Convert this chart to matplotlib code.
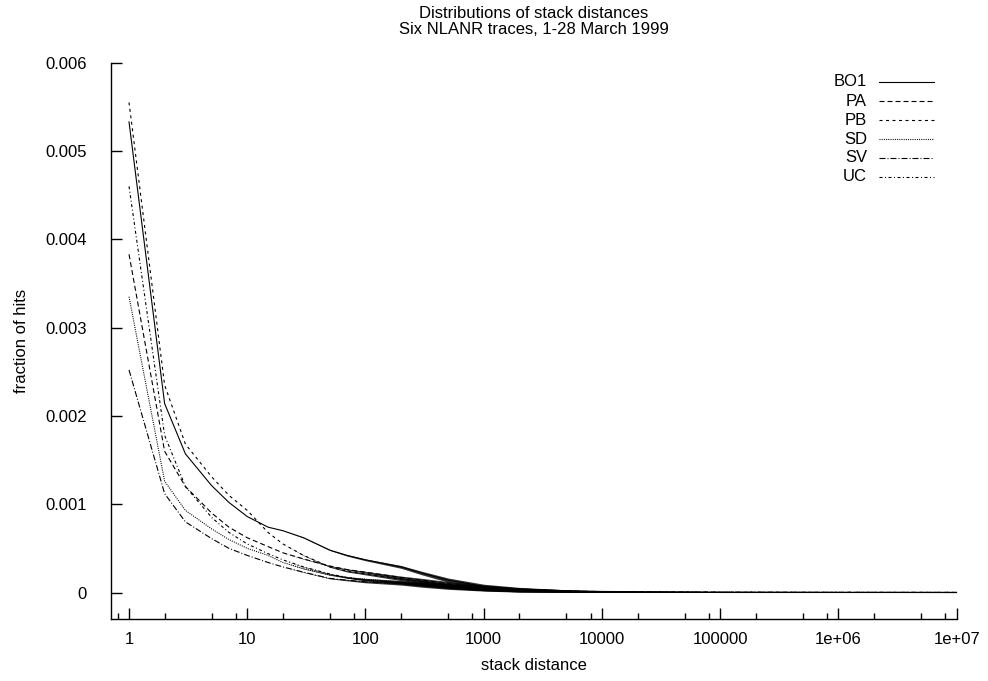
import matplotlib
matplotlib.use("Agg")
import matplotlib.pyplot as plt
import numpy as np

plt.rcParams['font.family'] = ['Liberation Sans', 'DejaVu Sans']
plt.rcParams['lines.scale_dashes'] = False

# ---- data (fraction of hits) ----
x_pts = [1, 2, 3, 5, 7, 10, 15, 20, 30, 50, 70, 100, 200, 300, 500, 1000, 2000, 5000, 10000, 100000, 1000000, 10000000]

BO1 = [5.33e-3, 2.14e-3, 1.57e-3, 1.21e-3, 1.02e-3, 0.86e-3, 0.74e-3, 0.70e-3, 0.62e-3, 0.48e-3, 0.42e-3, 0.37e-3, 0.29e-3, 0.22e-3, 0.14e-3, 0.07e-3, 0.04e-3, 0.02e-3, 0.012e-3, 0.003e-3, 0.001e-3, 0.0005e-3]
PA  = [3.83e-3, 1.60e-3, 1.20e-3, 0.90e-3, 0.74e-3, 0.62e-3, 0.52e-3, 0.45e-3, 0.38e-3, 0.30e-3, 0.26e-3, 0.23e-3, 0.17e-3, 0.14e-3, 0.10e-3, 0.06e-3, 0.035e-3, 0.018e-3, 0.010e-3, 0.002e-3, 0.001e-3, 0.0005e-3]
PB  = [5.55e-3, 2.35e-3, 1.68e-3, 1.31e-3, 1.10e-3, 0.93e-3, 0.68e-3, 0.55e-3, 0.42e-3, 0.29e-3, 0.24e-3, 0.21e-3, 0.15e-3, 0.12e-3, 0.08e-3, 0.05e-3, 0.03e-3, 0.015e-3, 0.008e-3, 0.002e-3, 0.001e-3, 0.0005e-3]
SD  = [3.35e-3, 1.26e-3, 0.93e-3, 0.72e-3, 0.60e-3, 0.50e-3, 0.42e-3, 0.34e-3, 0.27e-3, 0.20e-3, 0.17e-3, 0.15e-3, 0.12e-3, 0.10e-3, 0.07e-3, 0.045e-3, 0.025e-3, 0.013e-3, 0.007e-3, 0.002e-3, 0.001e-3, 0.0005e-3]
SV  = [2.52e-3, 1.12e-3, 0.80e-3, 0.61e-3, 0.50e-3, 0.42e-3, 0.34e-3, 0.29e-3, 0.23e-3, 0.16e-3, 0.14e-3, 0.12e-3, 0.10e-3, 0.08e-3, 0.06e-3, 0.04e-3, 0.022e-3, 0.012e-3, 0.006e-3, 0.002e-3, 0.001e-3, 0.0005e-3]
UC  = [4.60e-3, 1.78e-3, 1.20e-3, 0.85e-3, 0.68e-3, 0.55e-3, 0.44e-3, 0.37e-3, 0.29e-3, 0.21e-3, 0.17e-3, 0.14e-3, 0.11e-3, 0.09e-3, 0.07e-3, 0.045e-3, 0.025e-3, 0.013e-3, 0.007e-3, 0.002e-3, 0.001e-3, 0.0005e-3]

# half-width of the sample-to-sample scatter seen around each curve
SPREAD = [0, 0, 0, 0, 0, 0, 0, 0, 0.003e-3, 0.005e-3, 0.008e-3, 0.010e-3, 0.016e-3, 0.020e-3, 0.024e-3, 0.024e-3, 0.018e-3, 0.011e-3, 0.005e-3, 0.002e-3, 0.001e-3, 0.0005e-3]

series_names = ['BO1', 'PA', 'PB', 'SD', 'SV', 'UC']
series_vals = [BO1, PA, PB, SD, SV, UC]

x_ticks = [1, 10, 100, 1000, 10000, 100000, 1000000, 10000000]
x_ticklabels = ['1', '10', '100', '1000', '10000', '100000', '1e+06', '1e+07']
y_ticks = [0, 0.001, 0.002, 0.003, 0.004, 0.005, 0.006]
y_ticklabels = ['0', '0.001', '0.002', '0.003', '0.004', '0.005', '0.006']

# ---- styles (dash patterns in points, 1px = 0.72pt) ----
px = 0.72
styles = {
    'BO1': '-',
    'PA': (0, (5 * px, 3 * px)),
    'PB': (0, (3 * px, 3.5 * px)),
    'SD': (0, (1 * px, 1.2 * px)),
    'SV': (0, (6 * px, 2 * px, 1 * px, 2 * px)),
    'UC': (0, (3 * px, 2.5 * px, 1 * px, 2.5 * px)),
}

W, H = 988, 681
fig = plt.figure(figsize=(W / 100, H / 100), dpi=100)
L, R, T, B = 110.7, 956.7, 62.7, 619
ax = fig.add_axes([L / W, 1 - B / H, (R - L) / W, (B - T) / H])

sp = np.array(SPREAD)
for name, vals in zip(series_names, series_vals):
    v = np.array(vals)
    ax.fill_between(x_pts, v - sp, v + sp, color='black', lw=0, alpha=0.8)
    ax.plot(x_pts, vals, color='black', lw=0.8, linestyle=styles[name])

ax.set_xscale('log')
ax.set_xlim(0.7, 1e7)
ax.set_ylim(-0.0003, 0.006)

for s in ['top', 'right']:
    ax.spines[s].set_visible(False)
for s in ['left', 'bottom']:
    ax.spines[s].set_linewidth(1.0)

ax.set_xticks(x_ticks)
ax.set_xticklabels(x_ticklabels)
minor = []
for k in range(-1, 7):
    for m in (2, 5, 8):
        v = m * 10.0 ** k
        if 0.7 <= v <= 1e7:
            minor.append(v)
ax.set_xticks(minor, minor=True)
ax.xaxis.set_minor_formatter(matplotlib.ticker.NullFormatter())
ax.set_yticks(y_ticks)
ax.set_yticklabels(y_ticklabels)

fs = 12
ax.tick_params(axis='both', which='major', direction='in', length=8, width=1.0,
               labelsize=fs, colors='black')
ax.tick_params(axis='x', which='major', pad=9)
ax.tick_params(axis='y', which='major', pad=17)
ax.tick_params(axis='x', which='minor', direction='in', length=4, width=1.0)

ax.set_xlabel('stack distance', fontsize=fs, labelpad=8)
ax.set_ylabel('fraction of hits', fontsize=fs, labelpad=12)
fig.text((L + R) / 2 / W, 1 - 6 / H,
         'Distributions of stack distances\nSix NLANR traces, 1-28 March 1999',
         ha='center', va='top', fontsize=fs, linespacing=1.1)

# ---- legend (manual, gnuplot style: label right-aligned, sample to the right) ----
rows_px = [81.7, 101.2, 120.4, 139.3, 158.0, 176.7]
x_text = (867 - L) / (R - L)
x0 = (879 - L) / (R - L)
x1 = (934 - L) / (R - L)
for name, ypx in zip(series_names, rows_px):
    ya = (B - ypx) / (B - T)
    ax.text(x_text, ya, name, transform=ax.transAxes, ha='right', va='center', fontsize=fs)
    ax.plot([x0, x1], [ya, ya], transform=ax.transAxes, color='black', lw=0.8,
            linestyle=styles[name], clip_on=False)

fig.savefig('out.png', dpi=100)
